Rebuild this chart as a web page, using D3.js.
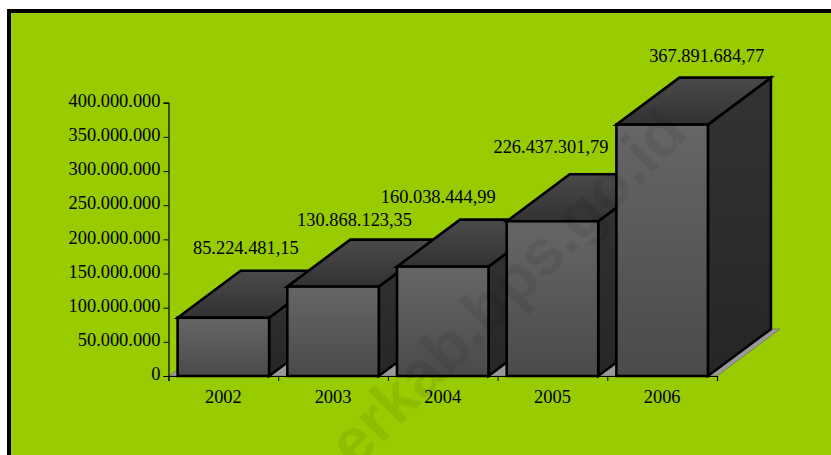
<!DOCTYPE html>
<html><head><meta charset="utf-8">
<script src="https://cdn.jsdelivr.net/npm/d3@7/dist/d3.min.js"></script>
<style>html,body{margin:0;padding:0;background:#fff;overflow:hidden}svg{display:block}text{font-family:"Liberation Serif",serif;fill:#000;font-size:18.4px}</style>
</head><body><svg id="c" width="831" height="455"></svg>
<script>
const years = ["2002","2003","2004","2005","2006"];
const values = [85224481.15,130868123.35,160038444.99,226437301.79,367891684.77];
const valueLabels = ["85.224.481,15","130.868.123,35","160.038.444,99","226.437.301,79","367.891.684,77"];
const yTicks = [0,50000000,100000000,150000000,200000000,250000000,300000000,350000000,400000000];
const tickFmt = d3.formatLocale({decimal:",",thousands:".",grouping:[3],currency:["",""]}).format(",d");

const svg = d3.select("#c");
const defs = svg.append("defs");
function grad(id,a,b){const g=defs.append("linearGradient").attr("id",id).attr("x1",0).attr("x2",0).attr("y1",0).attr("y2",1);
  g.append("stop").attr("offset",0).attr("stop-color",a);g.append("stop").attr("offset",1).attr("stop-color",b);}
grad("gFront","#666666","#4a4a4a");
grad("gTop","#4a4a4a","#323232");
grad("gSide","#333333","#262626");

const DX=63, DY=-47;
const y=d3.scaleLinear().domain([0,400000000]).range([376,102.7]);
const x=d3.scaleBand().domain(years).range([168.5,717]).paddingInner(0.166).paddingOuter(0.083);

// panel
svg.append("rect").attr("x",9).attr("y",11).attr("width",900).attr("height",900).attr("fill","#99cc00").attr("stroke","#000").attr("stroke-width",4);

// floor
const x0=x.range()[0], x1=x.range()[1];
svg.append("path").attr("d",`M${x0},${y(0)}L${x0+DX},${y(0)+DY}H${x1+DX}L${x1},${y(0)}Z`).attr("fill","#999999").attr("stroke","#666").attr("stroke-width",0.6);

// axes
const yAxis=d3.axisLeft(y).tickValues(yTicks).tickSize(5).tickPadding(3).tickFormat(tickFmt);
const gy=svg.append("g").attr("transform","translate(168.5,0)").call(yAxis);
const ticksX=d3.range(6).map(i=>x0+i*x.step());
const xAxis=d3.axisBottom(d3.scaleLinear().domain([x0,x1]).range([x0,x1])).tickValues(ticksX).tickSize(5).tickFormat("");
const gx=svg.append("g").attr("transform",`translate(0,${y(0)})`).call(xAxis);
gy.selectAll("text").style("font-size","18.4px").style("font-family","Liberation Serif").attr("fill","#000").attr("dy","0.2em");
svg.selectAll(".domain").attr("stroke","#000").attr("stroke-width",1.2);
svg.selectAll(".tick line").attr("stroke","#000");

// bars
const bars=svg.append("g").selectAll("g").data(years.map((k,i)=>({k,v:values[i],l:valueLabels[i]}))).join("g");
bars.each(function(d){
  const g=d3.select(this),a=x(d.k),b=a+x.bandwidth(),t=y(d.v),z=y(0);
  const st=s=>s.attr("stroke","#000").attr("stroke-width",2.6).attr("stroke-linejoin","miter");
  st(g.append("path").attr("d",`M${b},${t}L${b+DX},${t+DY}V${z+DY}L${b},${z}Z`).attr("fill","url(#gSide)"));
  st(g.append("path").attr("d",`M${a},${t}L${a+DX},${t+DY}H${b+DX}L${b},${t}Z`).attr("fill","url(#gTop)"));
  st(g.append("rect").attr("x",a).attr("y",t).attr("width",x.bandwidth()).attr("height",z-t).attr("fill","url(#gFront)"));
});

// category labels
svg.append("g").selectAll("text").data(years).join("text")
  .attr("x",d=>x(d)+x.bandwidth()/2).attr("y",403).attr("text-anchor","middle").text(d=>d);

// value labels (hand-placed in the original)
const labelShift=[[-9,-17],[-10,-14],[-36,-17],[-33,-21],[13,-16]];
svg.append("g").selectAll("text").data(years).join("text")
  .attr("x",(d,i)=>x(d)+x.bandwidth()/2+DX/2+labelShift[i][0])
  .attr("y",(d,i)=>y(values[i])+DY+labelShift[i][1])
  .attr("text-anchor","middle").text((d,i)=>valueLabels[i]);

// watermark
svg.append("text").attr("transform","translate(355,470) rotate(-45)")
  .style("font-family","Liberation Sans").style("font-weight","bold").style("font-size","64px")
  .style("fill","#000").attr("fill-opacity",0.07).text("erkab.bps.go.id");
</script></body></html>
